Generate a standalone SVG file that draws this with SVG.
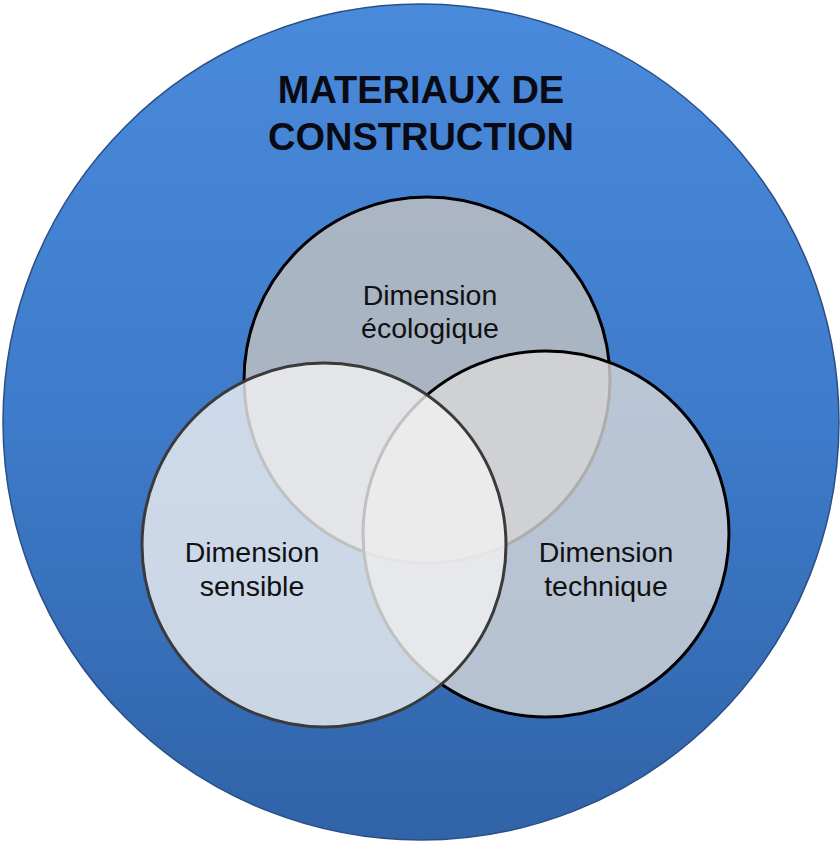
<svg xmlns="http://www.w3.org/2000/svg" width="840" height="845" viewBox="0 0 840 845">
  <defs>
    <linearGradient id="bg" x1="0" y1="0" x2="0" y2="1">
      <stop offset="0" stop-color="#4a8adb"/>
      <stop offset="0.5" stop-color="#3e7bca"/>
      <stop offset="1" stop-color="#3063a8"/>
    </linearGradient>
    <style>
      .title { font-family: "Liberation Sans", Arial, sans-serif; font-weight: bold; font-size: 38px; fill: #0a0a14; text-anchor: middle; }
      .lbl { font-family: "Liberation Sans", Arial, sans-serif; font-size: 28.5px; fill: #111; text-anchor: middle; }
      .venn { stroke-width: 3; }
    </style>
  </defs>
  <rect width="840" height="845" fill="#ffffff"/>
  <g id="outer">
    <circle cx="421" cy="422" r="418" fill="url(#bg)" stroke="#2a4f86" stroke-width="1.5"/>
    <text class="title" x="421" y="103">MATERIAUX DE</text>
    <text class="title" x="421" y="150">CONSTRUCTION</text>
  </g>
  <g id="ecologique">
    <circle class="venn" cx="427" cy="380" r="183" fill="#c8c4c0" fill-opacity="0.78" stroke="#000"/>
  </g>
  <g id="technique">
    <circle class="venn" cx="546" cy="534" r="183" fill="#d8d8d8" fill-opacity="0.8" stroke="#000"/>
  </g>
  <g id="sensible">
    <circle class="venn" cx="324" cy="545" r="182" fill="#f1f1f1" fill-opacity="0.8" stroke="#3a3a3a"/>
  </g>
  <g id="labels">
    <text class="lbl" x="430" y="305">Dimension</text>
    <text class="lbl" x="430" y="338">écologique</text>
    <text class="lbl" x="252" y="562">Dimension</text>
    <text class="lbl" x="252" y="596">sensible</text>
    <text class="lbl" x="606" y="562">Dimension</text>
    <text class="lbl" x="606" y="596">technique</text>
  </g>
</svg>
